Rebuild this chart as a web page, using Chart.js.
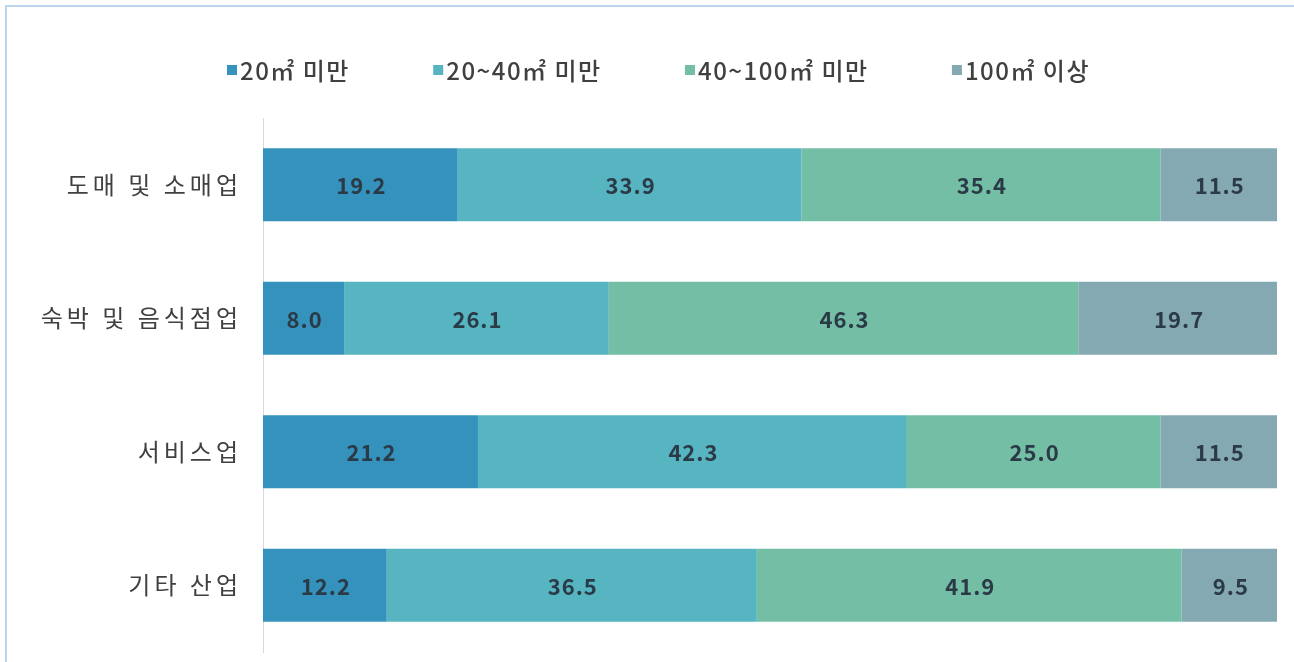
<!DOCTYPE html>
<html>
<head>
<meta charset="utf-8">
<script src="https://cdn.jsdelivr.net/npm/chart.js@4.4.1/dist/chart.umd.min.js"></script>
<style>
html,body{margin:0;padding:0;background:#fff;overflow:hidden;}
#wrap{position:relative;width:1294px;height:662px;}
#frame{position:absolute;left:5px;top:5px;width:1400px;height:800px;border-top:2px solid #bdd5ea;border-left:2px solid #bdd5ea;pointer-events:none;}
canvas{position:absolute;left:0;top:0;}
</style>
</head>
<body>
<div id="wrap">
<canvas id="c" width="1294" height="662"></canvas>
<div id="frame"></div>
</div>
<script>
const categories = ['도매 및 소매업', '숙박 및 음식점업', '서비스업', '기타 산업'];
const seriesNames = ['20㎡ 미만', '20~40㎡ 미만', '40~100㎡ 미만', '100㎡ 이상'];
const under20 = [19.2, 8.0, 21.2, 12.2];
const from20to40 = [33.9, 26.1, 42.3, 36.5];
const from40to100 = [35.4, 46.3, 25.0, 41.9];
const over100 = [11.5, 19.7, 11.5, 9.5];
const colors = ['#3592bd', '#56b5c1', '#75bea6', '#85a9b2'];

const FONT = '"Noto Sans CJK KR", "Noto Sans", sans-serif';

const spacing = {
  id: 'spacing',
  beforeDraw(chart) { chart.ctx.letterSpacing = '4px'; },
  beforeDatasetsDraw(chart) { chart.ctx.letterSpacing = '0px'; }
};

const valueLabels = {
  id: 'valueLabels',
  afterDatasetsDraw(chart) {
    const ctx = chart.ctx;
    ctx.save();
    ctx.font = 'bold 22px ' + FONT;
    ctx.letterSpacing = '1px';
    ctx.fillStyle = '#2b3a47';
    ctx.textAlign = 'center';
    ctx.textBaseline = 'middle';
    chart.data.datasets.forEach((ds, di) => {
      const meta = chart.getDatasetMeta(di);
      meta.data.forEach((bar, i) => {
        const p = bar.getProps(['x', 'y', 'base'], true);
        const cx = (p.x + p.base) / 2;
        ctx.fillText(ds.data[i].toFixed(1), cx + 1, p.y + 1);
      });
    });
    ctx.restore();
  }
};

const customLegend = {
  id: 'customLegend',
  afterDraw(chart) {
    const ctx = chart.ctx;
    ctx.save();
    ctx.letterSpacing = '1.5px';
    ctx.font = '500 24px ' + FONT;
    ctx.textBaseline = 'middle';
    const box = 10, boxGap = 3;
    const items = chart.data.datasets.map(ds => ({text: ds.label, color: ds.backgroundColor, w: box + boxGap + ctx.measureText(ds.label).width}));
    const sum = items.reduce((s, it) => s + it.w, 0);
    const left = 227, right = 1090;
    const gap = (right - left - sum) / (items.length - 1);
    let x = left;
    const y = 70;
    items.forEach(it => {
      ctx.fillStyle = it.color;
      ctx.fillRect(x, y - box / 2, box, box);
      ctx.fillStyle = '#404040';
      ctx.fillText(it.text, x + box + boxGap, y + 1);
      x += it.w + gap;
    });
    ctx.restore();
  }
};

const data = {
  labels: categories,
  datasets: [
    {label: seriesNames[0], data: under20, backgroundColor: colors[0]},
    {label: seriesNames[1], data: from20to40, backgroundColor: colors[1]},
    {label: seriesNames[2], data: from40to100, backgroundColor: colors[2]},
    {label: seriesNames[3], data: over100, backgroundColor: colors[3]}
  ]
};

new Chart(document.getElementById('c'), {
  type: 'bar',
  data: data,
  options: {
    indexAxis: 'y',
    responsive: false,
    animation: false,
    devicePixelRatio: 1,
    layout: {padding: {top: 118, bottom: 10, right: 17, left: 0}},
    datasets: {bar: {barPercentage: 0.547, categoryPercentage: 1, borderWidth: 0}},
    plugins: {legend: {display: false}, tooltip: {enabled: false}},
    scales: {
      x: {stacked: true, min: 0, max: 100, display: false, grid: {display: false}},
      y: {
        stacked: true,
        grid: {display: false, drawTicks: false},
        border: {display: true, color: '#d9d9d9', width: 1},
        ticks: {padding: 21, color: '#404040', font: {family: FONT, size: 24}},
        afterFit(scale) { scale.width = 263; scale.paddingTop = 0; scale.paddingBottom = 0; }
      }
    }
  },
  plugins: [spacing, valueLabels, customLegend]
});
</script>
</body>
</html>
